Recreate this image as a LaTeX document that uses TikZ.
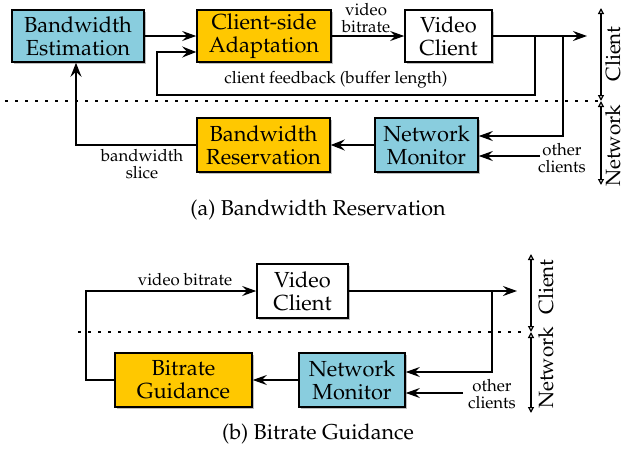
\documentclass[tikz,border=0pt]{standalone}
\usepackage[T1]{fontenc}
\usepackage{mathpazo}
\usetikzlibrary{arrows.meta,shadows}
\definecolor{boxblue}{RGB}{137,205,222}
\definecolor{boxgold}{RGB}{255,200,0}
\tikzset{
  box/.style={draw, line width=0.8pt, align=center, inner sep=0pt,
    font=\fontsize{10.9}{11.6}\selectfont,
    drop shadow={shadow xshift=1.2pt, shadow yshift=-1.2pt, fill=black!25, opacity=1}},
  thin line/.style={line width=0.6pt},
  thick line/.style={line width=1.3pt},
  arr/.style={thin line, -{Stealth[length=7pt,width=5pt,inset=2.5pt]}},
  thickarr/.style={thick line, -{Stealth[length=7pt,width=5.5pt,inset=2.5pt]}},
  sep line/.style={line width=0.6pt, dash pattern=on 1.5pt off 3.5pt},
  axisarr/.style={line width=0.6pt, {Triangle[open,length=3pt,width=3pt]}-{Triangle[open,length=3pt,width=3pt]}},
  lbl/.style={align=center, inner sep=0pt, font=\fontsize{8.4}{8.4}\selectfont},
  side/.style={inner sep=0pt, rotate=90, font=\fontsize{10.3}{12}\selectfont},
  capt/.style={inner sep=0pt, font=\fontsize{10.75}{12}\selectfont}
}
\begin{document}
\begin{tikzpicture}[x=0.5pt,y=-0.5pt]
\useasboundingbox (0,0) rectangle (623,450);
% ---------- (a) ----------
\node[box, fill=boxblue, minimum width=66pt, minimum height=26pt] (be) at (78,36) {Bandwidth\\Estimation};
\node[box, fill=boxgold, minimum width=67pt, minimum height=26pt] (csa) at (264,36) {Client-side\\Adaptation};
\node[box, fill=white, minimum width=43.5pt, minimum height=26pt] (vc) at (448.5,36) {Video\\Client};
\node[box, fill=boxblue, minimum width=51.5pt, minimum height=27pt] (nm) at (426.5,145) {Network\\Monitor};
\node[box, fill=boxgold, minimum width=66.5pt, minimum height=27pt] (br) at (263.5,145) {Bandwidth\\Reservation};

\coordinate (outa) at (587,36);
\coordinate (fbtap) at (535,36);
\coordinate (fbcorner) at (157,95);
\coordinate (nmtap) at (563,36);
\coordinate (otha) at (540,156);
\coordinate (slicecorner) at (76,145);

\draw[arr] (be.east) -- (csa.west);
\draw[arr] (csa.east) -- (vc.west);
\draw[arr] (vc.east) -- (outa);
\draw[thickarr] (fbtap) |- (fbcorner) |- ([yshift=-8pt]csa.west);
\draw[arr] (nmtap) |- ([yshift=4.5pt]nm.east);
\draw[arr] (otha) -- (otha -| nm.east);
\draw[thickarr] (nm.west) -- (br.west -| br.east);
\draw[thickarr] (br.west) -- (slicecorner) -- (slicecorner |- be.south);

\node[lbl] (lvb) at (366,18.5) {video\\bitrate};
\node[lbl] (lfb) at (336,80) {client feedback (buffer length)};
\node[lbl] (lbs) at (142,164) {bandwidth\\slice};
\node[lbl] (loc) at (562,158.5) {other\\clients};

\coordinate (sepaL) at (5,101);
\coordinate (sepaR) at (598,101);
\draw[sep line] (sepaL) -- (sepaR);

\coordinate (axaT) at (601,8);
\coordinate (axaM) at (601,101);
\coordinate (axaB) at (601,185);
\draw[axisarr] (axaT) -- (axaM);
\draw[axisarr] (axaM) -- (axaB);
\node[side] (sca) at (613,54) {Client};
\node[side] (sna) at (613,146) {Network};

\node[capt] (capa) at (318,210) {(a) Bandwidth Reservation};

% ---------- (b) ----------
\node[box, fill=white, minimum width=45.5pt, minimum height=27pt] (vcb) at (302.5,291) {Video\\Client};
\node[box, fill=boxgold, minimum width=68.5pt, minimum height=27pt] (bg) at (183.5,380) {Bitrate\\Guidance};
\node[box, fill=boxblue, minimum width=53pt, minimum height=27pt] (nmb) at (352,380) {Network\\Monitor};

\coordinate (outb) at (517,291);
\coordinate (nmtapb) at (492,291);
\coordinate (othb) at (463,393);
\coordinate (bgcorner) at (86,380);

\draw[arr] (vcb.east) -- (outb);
\draw[arr] (nmtapb) |- ([yshift=4pt]nmb.east);
\draw[arr] (othb) -- (othb -| nmb.east);
\draw[arr] (nmb.west) -- (bg.east);
\draw[arr] (bg.west) -- (bgcorner) |- (vcb.west);

\node[lbl] (lvbb) at (185,280) {video bitrate};
\node[lbl] (locb) at (492,394) {other\\clients};

\coordinate (sepbL) at (78,332);
\coordinate (sepbR) at (528,332);
\draw[sep line] (sepbL) -- (sepbR);

\coordinate (axbT) at (531,254);
\coordinate (axbM) at (531,332);
\coordinate (axbB) at (531,413);
\draw[axisarr] (axbT) -- (axbM);
\draw[axisarr] (axbM) -- (axbB);
\node[side] (scb) at (546,287) {Client};
\node[side] (snb) at (546,368) {Network};

\node[capt] (capb) at (318,434) {(b) Bitrate Guidance};
\end{tikzpicture}
\end{document}
